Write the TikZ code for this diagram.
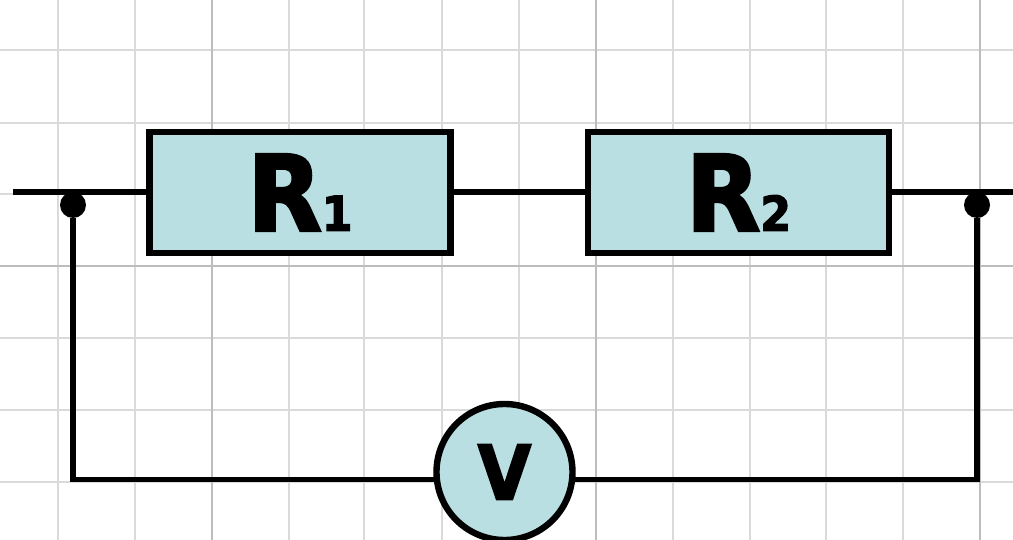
\documentclass[tikz,border=0pt]{standalone}
\usepackage{fontspec}
\newfontfamily\labelfont[FakeStretch=0.92,FakeBold=2.5]{DejaVu Sans Bold}
\usetikzlibrary{positioning}
\definecolor{boxfill}{HTML}{BADFE3}
\definecolor{gridlight}{HTML}{DADADA}
\definecolor{griddark}{HTML}{BDBDBD}
\newcommand{\bigR}[1]{\labelfont\fontsize{105}{105}\selectfont R\fontsize{48}{48}\selectfont #1}
\begin{document}
\begin{tikzpicture}[%
x=1pt,
y=-1pt,
on grid,
wire/.style={line width=5.8pt,black},
resistor/.style={rectangle, draw, line width=6.4pt, fill=boxfill, minimum width=301pt, minimum height=121pt, inner sep=0pt},
meter/.style={circle, draw, line width=6.4pt, fill=boxfill, minimum size=136pt, inner sep=0pt},
junction/.style={circle, fill=black, minimum size=26pt, inner sep=0pt},
thin grid/.style={line width=2pt,gridlight},
thick grid/.style={line width=2pt,griddark}
]
\useasboundingbox (0,0) rectangle (1013,540);
% grid
\foreach \x in {58,135,289,364,442,519,673,750,826,903}
  \draw[thin grid] (\x,0) -- (\x,540);
\foreach \y in {50,123,194,338,410,482}
  \draw[thin grid] (0,\y) -- (1013,\y);
\foreach \x in {212,596,980}
  \draw[thick grid] (\x,0) -- (\x,540);
\draw[thick grid] (0,266) -- (1013,266);
% circuit
\coordinate (in) at (13,192);
\coordinate (out) at (1013,192);
\coordinate (cornerL) at (73,479.5);
\coordinate (cornerR) at (977,479.5);
\node[junction] (dotL) at (73,205) {};
\node[junction] (dotR) at (977,205) {};
\node[meter] (V) at (504.5,472) {\labelfont\fontsize{75}{75}\selectfont V};
\node[resistor] (R1) at (300,192.5) {\bigR{1}};
\node[resistor] (R2) [right=438.5pt of R1] {\bigR{2}};
\draw[wire] (in) -- (in -| R1.west);
\draw[wire] (R1.east |- in) -- (R2.west |- in);
\draw[wire] (R2.east |- out) -- (out);
\draw[wire] (dotL) -- (cornerL) -- (V.186 |- cornerL);
\draw[wire] (dotR) -- (cornerR) -- (V.354 |- cornerR);
\end{tikzpicture}
\end{document}
